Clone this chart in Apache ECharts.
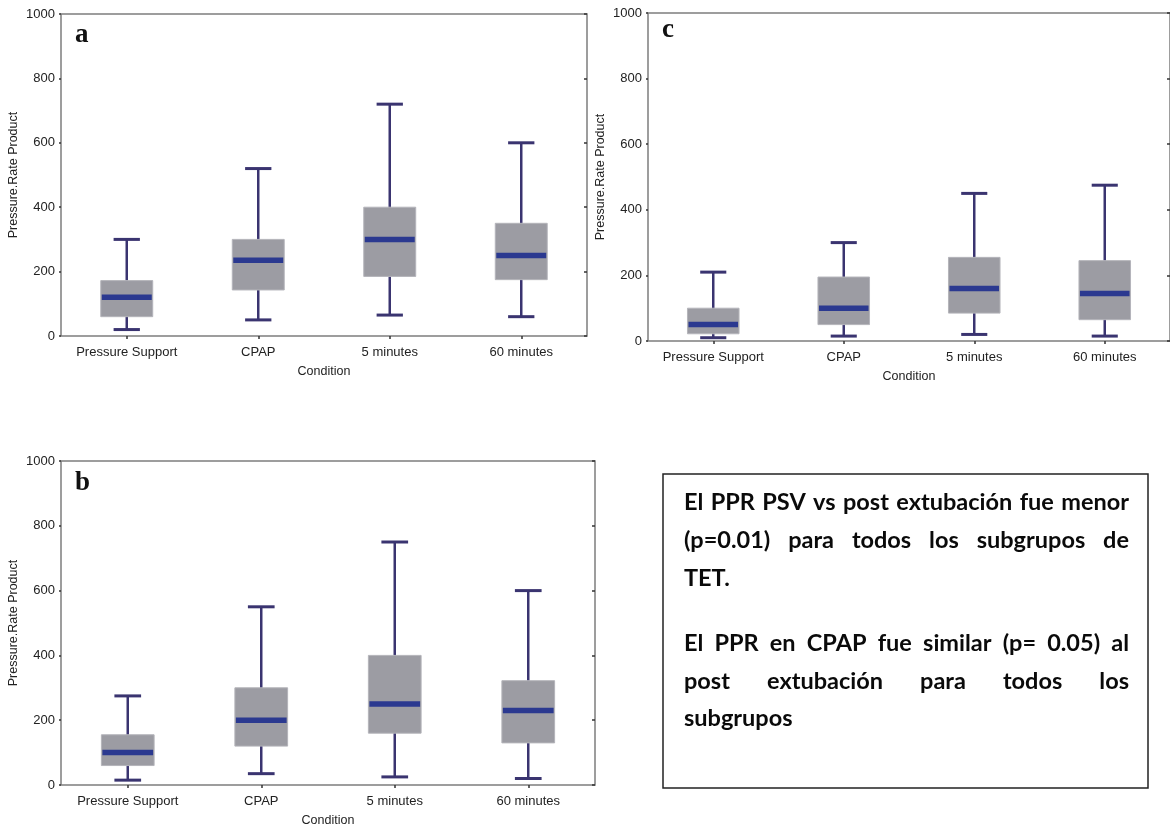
<!DOCTYPE html>
<html><head><meta charset="utf-8">
<script src="https://cdn.jsdelivr.net/npm/echarts@6/dist/echarts.min.js"></script>
<style>html,body{margin:0;padding:0;background:#fff}#c{width:1170px;height:828px}</style>
</head><body><div id="c"></div>
<script>
// ---- data ----
const categories = ['Pressure Support', 'CPAP', '5 minutes', '60 minutes'];
const yTickLabels = [0, 200, 400, 600, 800, 1000];
// each row: [whisker low, Q1, median, Q3, whisker high]
const panelA = [[20, 60, 120, 172, 300], [50, 143, 235, 300, 520], [65, 185, 300, 400, 720], [60, 175, 250, 350, 600]];
const panelB = [[15, 60, 100, 155, 275], [35, 120, 200, 300, 550], [25, 160, 250, 400, 750], [20, 130, 230, 322, 600]];
const panelC = [[10, 22, 50, 100, 210], [15, 50, 100, 195, 300], [20, 85, 160, 255, 450], [15, 65, 145, 245, 475]];
const panelLetters = ['a', 'b', 'c'];
const yAxisName = 'Pressure.Rate Product';
const xAxisName = 'Condition';
const noteLines = [
  ['El PPR PSV vs post extubación fue menor', true],
  ['(p=0.01) para todos los subgrupos de', true],
  ['TET.', false],
  ['El PPR en CPAP fue similar (p= 0.05) al', true],
  ['post extubación para todos los', true],
  ['subgrupos', false]
];

// ---- layout / style ----
const grids = [
  { left: 61, top: 14, width: 526, height: 322 },   // a
  { left: 61, top: 461, width: 534, height: 327 },  // b
  { left: 648, top: 13, width: 532, height: 328 }   // c
];
const panels = [panelA, panelB, panelC];
const letterPos = [[75, 37], [75, 485], [662, 32]];
const FRAME = '#7d7d7d', WHISK = '#3a3470', MED = '#2b3990', BOXF = '#9c9ca3', BOXS = '#b4b4ba';
const labelFont = { fontFamily: 'Liberation Sans, Arial, sans-serif', fontSize: 13, color: '#222' };
const nameFont = { fontFamily: 'Liberation Sans, Arial, sans-serif', fontSize: 12.5, color: '#222' };

function renderBox(params, api) {
  const i = api.value(0);
  const low = api.coord([i, api.value(1)]);
  const q1 = api.coord([i, api.value(2)]);
  const med = api.coord([i, api.value(3)]);
  const q3 = api.coord([i, api.value(4)]);
  const high = api.coord([i, api.value(5)]);
  const band = api.size([1, 0])[0];
  const bw = band * 0.395, cw = band * 0.2;
  const x = low[0];
  return {
    type: 'group', children: [
      { type: 'line', shape: { x1: x, y1: low[1], x2: x, y2: high[1] }, style: { stroke: WHISK, lineWidth: 2.5 } },
      { type: 'rect', shape: { x: x - bw / 2, y: q3[1], width: bw, height: q1[1] - q3[1] }, style: { fill: BOXF, stroke: BOXS, lineWidth: 1 } },
      { type: 'line', shape: { x1: x - bw / 2 + 1, y1: med[1], x2: x + bw / 2 - 1, y2: med[1] }, style: { stroke: MED, lineWidth: 5.5 } },
      { type: 'line', shape: { x1: x - cw / 2, y1: low[1], x2: x + cw / 2, y2: low[1] }, style: { stroke: WHISK, lineWidth: 3 } },
      { type: 'line', shape: { x1: x - cw / 2, y1: high[1], x2: x + cw / 2, y2: high[1] }, style: { stroke: WHISK, lineWidth: 3 } }
    ]
  };
}

const xAxes = [], yAxes = [], series = [], gridOpts = [];
grids.forEach((g, gi) => {
  gridOpts.push(Object.assign({ show: true, borderColor: FRAME, borderWidth: 1.5, backgroundColor: 'transparent' }, g));
  xAxes.push({
    type: 'category', data: categories, gridIndex: gi, position: 'bottom', boundaryGap: true,
    axisLine: { show: false }, axisTick: { show: true, alignWithLabel: true, inside: false, length: 2, lineStyle: { color: '#333', width: 1.5 } },
    axisLabel: Object.assign({ margin: 10, interval: 0 }, labelFont),
    name: xAxisName, nameLocation: 'middle', nameGap: 29, nameTextStyle: nameFont
  });
  xAxes.push({
    type: 'category', data: categories, gridIndex: gi, position: 'top', boundaryGap: true,
    axisLine: { show: false }, axisTick: { show: true, alignWithLabel: true, inside: true, length: 3, lineStyle: { color: '#333', width: 1.5 } },
    axisLabel: { show: false }
  });
  yAxes.push({
    type: 'value', gridIndex: gi, position: 'left', min: 0, max: 1000, interval: 200,
    axisLine: { show: false }, splitLine: { show: false },
    axisTick: { show: true, length: 2, lineStyle: { color: '#333', width: 1.5 } },
    axisLabel: Object.assign({ margin: 6, formatter: v => (yTickLabels.indexOf(v) >= 0 ? String(v) : '') }, labelFont),
    name: yAxisName, nameLocation: 'middle', nameGap: 41, nameRotate: 90, nameTextStyle: nameFont
  });
  yAxes.push({
    type: 'value', gridIndex: gi, position: 'right', min: 0, max: 1000, interval: 200,
    axisLine: { show: false }, splitLine: { show: false },
    axisTick: { show: true, inside: true, length: 3, lineStyle: { color: '#333', width: 1.5 } },
    axisLabel: { show: false }
  });
  series.push({
    type: 'custom', xAxisIndex: gi * 2, yAxisIndex: gi * 2, renderItem: renderBox,
    encode: { x: 0, y: [1, 2, 3, 4, 5] }, clip: false,
    data: panels[gi].map((d, i) => [i].concat(d))
  });
});

// ---- text box with justified lines ----
const graphics = [];
panelLetters.forEach((l, i) => {
  graphics.push({ type: 'text', left: letterPos[i][0], top: letterPos[i][1] - 15, style: { text: l, font: 'bold 27px "Liberation Serif", "Times New Roman", serif', fill: '#111' } });
});
graphics.push({ type: 'rect', shape: { x: 663, y: 474, width: 485, height: 314 }, style: { fill: 'none', stroke: '#222', lineWidth: 1.5 } });
const FONT = 'bold 23.5px Lato, "Open Sans", sans-serif';
const ctx = document.createElement('canvas').getContext('2d');
ctx.font = FONT;
const tx0 = 684, tx1 = 1129;
const lineY = [502, 540, 578, 643, 681, 718];
noteLines.forEach(([line, just], li) => {
  const words = line.split(' ');
  const widths = words.map(w => ctx.measureText(w).width);
  const total = widths.reduce((a, b) => a + b, 0);
  const spaceW = ctx.measureText(' ').width;
  let gap = just && words.length > 1 ? (tx1 - tx0 - total) / (words.length - 1) : spaceW;
  let scale = 1;
  if (gap < spaceW * 0.6) { gap = spaceW * 0.6; }
  let x = tx0;
  words.forEach((w, wi) => {
    graphics.push({ type: 'text', x: x, y: lineY[li], style: { text: w, font: FONT, fill: '#0a0a0a', verticalAlign: 'middle' } });
    x += widths[wi] + gap;
  });
});

const chart = echarts.init(document.getElementById('c'), null, { renderer: 'canvas' });
chart.setOption({
  animation: false,
  backgroundColor: '#fff',
  grid: gridOpts,
  xAxis: xAxes,
  yAxis: yAxes,
  series: series,
  graphic: graphics
});
</script>
</body></html>
